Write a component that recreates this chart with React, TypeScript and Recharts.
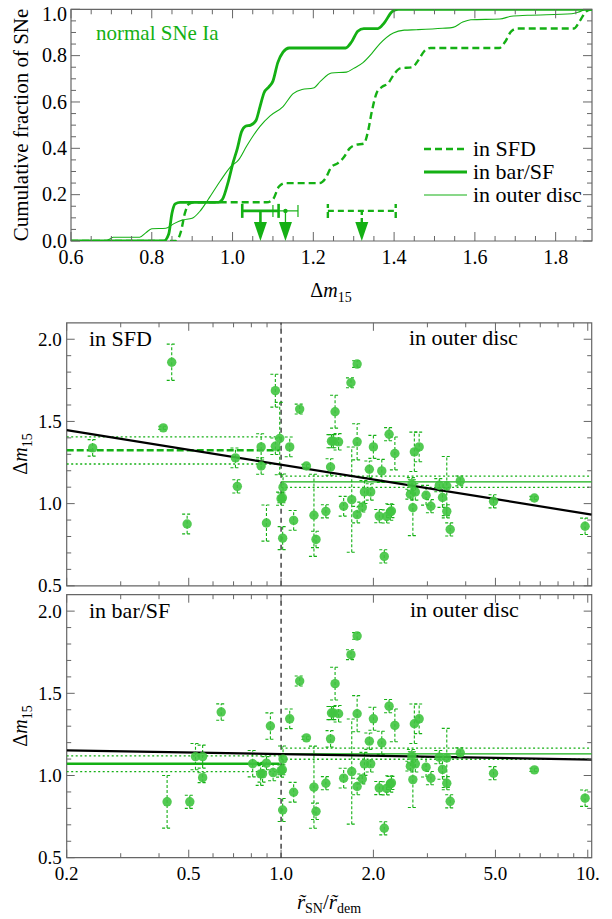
import React from 'react';
import {
  ComposedChart, Line, Scatter, XAxis, YAxis, ErrorBar,
  ReferenceLine, ReferenceArea, ReferenceDot,
} from 'recharts';

const GREEN = '#14b014';
const PT = '#40c440';
const FRAME = '#666666';
const FONT = '"Liberation Serif", "Times New Roman", Times, serif';

// ---------------- top panel: cumulative fractions ----------------
const topMajorX = [0.6, 0.8, 1.0, 1.2, 1.4, 1.6, 1.8];
const topMajorXLabels = ['0.6', '0.8', '1.0', '1.2', '1.4', '1.6', '1.8'];
const topMinorX = [0.65, 0.7, 0.75, 0.85, 0.9, 0.95, 1.05, 1.1, 1.15, 1.25, 1.3, 1.35, 1.45, 1.5, 1.55, 1.65, 1.7, 1.75, 1.85];
const topMajorY = [0, 0.2, 0.4, 0.6, 0.8, 1.0];
const topMajorYLabels = ['0.0', '0.2', '0.4', '0.6', '0.8', '1.0'];
const topMinorY = [0.05, 0.1, 0.15, 0.25, 0.3, 0.35, 0.45, 0.5, 0.55, 0.65, 0.7, 0.75, 0.85, 0.9, 0.95];

const cdfBar = [
  { x: 0.6, y: 0 }, { x: 0.83, y: 0 }, { x: 0.842, y: 0.03 }, { x: 0.85, y: 0.12 }, { x: 0.858, y: 0.16 },
  { x: 0.87, y: 0.167 }, { x: 0.965, y: 0.167 }, { x: 0.975, y: 0.18 }, { x: 0.99, y: 0.26 }, { x: 1.0, y: 0.33 },
  { x: 1.012, y: 0.4 }, { x: 1.022, y: 0.47 }, { x: 1.032, y: 0.495 }, { x: 1.045, y: 0.5 }, { x: 1.058, y: 0.52 },
  { x: 1.068, y: 0.58 }, { x: 1.078, y: 0.64 }, { x: 1.09, y: 0.665 }, { x: 1.1, y: 0.69 }, { x: 1.112, y: 0.77 },
  { x: 1.125, y: 0.815 }, { x: 1.14, y: 0.833 }, { x: 1.28, y: 0.833 }, { x: 1.295, y: 0.86 }, { x: 1.31, y: 0.905 },
  { x: 1.325, y: 0.917 }, { x: 1.36, y: 0.917 }, { x: 1.375, y: 0.94 }, { x: 1.395, y: 0.99 }, { x: 1.41, y: 1.0 },
  { x: 1.89, y: 1.0 },
];
const cdfSFD = [
  { x: 0.6, y: 0 }, { x: 0.86, y: 0 }, { x: 0.872, y: 0.04 }, { x: 0.882, y: 0.12 }, { x: 0.892, y: 0.16 },
  { x: 0.905, y: 0.167 }, { x: 1.085, y: 0.167 }, { x: 1.1, y: 0.18 }, { x: 1.115, y: 0.235 }, { x: 1.13, y: 0.25 },
  { x: 1.215, y: 0.25 }, { x: 1.23, y: 0.27 }, { x: 1.245, y: 0.32 }, { x: 1.26, y: 0.335 }, { x: 1.275, y: 0.36 },
  { x: 1.29, y: 0.4 }, { x: 1.305, y: 0.415 }, { x: 1.325, y: 0.42 }, { x: 1.335, y: 0.47 }, { x: 1.345, y: 0.56 },
  { x: 1.357, y: 0.64 }, { x: 1.37, y: 0.665 }, { x: 1.385, y: 0.68 }, { x: 1.4, y: 0.72 }, { x: 1.415, y: 0.745 },
  { x: 1.445, y: 0.75 }, { x: 1.46, y: 0.78 }, { x: 1.475, y: 0.82 }, { x: 1.49, y: 0.833 }, { x: 1.66, y: 0.833 },
  { x: 1.675, y: 0.86 }, { x: 1.69, y: 0.905 }, { x: 1.705, y: 0.917 }, { x: 1.845, y: 0.917 }, { x: 1.86, y: 0.95 },
  { x: 1.875, y: 0.99 }, { x: 1.89, y: 1.0 },
];
const cdfOuter = [
  { x: 0.6, y: 0 }, { x: 0.685, y: 0 }, { x: 0.695, y: 0.008 }, { x: 0.705, y: 0.016 }, { x: 0.77, y: 0.016 },
  { x: 0.785, y: 0.035 }, { x: 0.8, y: 0.053 }, { x: 0.835, y: 0.055 }, { x: 0.855, y: 0.075 }, { x: 0.875, y: 0.09 },
  { x: 0.9, y: 0.098 }, { x: 0.92, y: 0.13 }, { x: 0.94, y: 0.18 }, { x: 0.97, y: 0.26 }, { x: 0.995, y: 0.32 },
  { x: 1.015, y: 0.35 }, { x: 1.035, y: 0.41 }, { x: 1.068, y: 0.495 }, { x: 1.093, y: 0.54 }, { x: 1.125, y: 0.58 },
  { x: 1.15, y: 0.636 }, { x: 1.172, y: 0.654 }, { x: 1.2, y: 0.66 }, { x: 1.218, y: 0.69 }, { x: 1.245, y: 0.725 },
  { x: 1.282, y: 0.729 }, { x: 1.3, y: 0.745 }, { x: 1.323, y: 0.77 }, { x: 1.345, y: 0.81 }, { x: 1.365, y: 0.852 },
  { x: 1.398, y: 0.898 }, { x: 1.425, y: 0.91 }, { x: 1.456, y: 0.912 }, { x: 1.52, y: 0.918 }, { x: 1.546, y: 0.922 },
  { x: 1.57, y: 0.945 }, { x: 1.59, y: 0.955 }, { x: 1.662, y: 0.958 }, { x: 1.69, y: 0.97 }, { x: 1.73, y: 0.974 },
  { x: 1.84, y: 0.981 }, { x: 1.86, y: 0.99 }, { x: 1.877, y: 1.0 }, { x: 1.89, y: 1.0 },
];
// mean values with errors, drawn at a fixed height above the axis
const meanBar = [{ x: 1.069, y: 0.13, e: 0.045 }];
const meanOuter = [{ x: 1.131, y: 0.13, e: 0.031 }];
const meanSFD = [{ x: 1.32, y: 0.13, e: 0.084 }];

// ---------------- bottom panels ----------------
const logMajorX = [0.2, 0.5, 1, 2, 5, 10];
const logMajorXLabels = ['0.2', '0.5', '1.0', '2.0', '5.0', '10.'];
const logMinorX = [0.3, 0.4, 0.6, 0.7, 0.8, 0.9, 3, 4, 6, 7, 8, 9];
const dmMajorY = [0.5, 1.0, 1.5, 2.0];
const dmMajorYLabels = ['0.5', '1.0', '1.5', '2.0'];
const dmMinorY = [0.6, 0.7, 0.8, 0.9, 1.1, 1.2, 1.3, 1.4, 1.6, 1.7, 1.8, 1.9];

const outerPts = [
  { x: 1.0, y: 1.03, e: 0.04 }, { x: 1.01, y: 1.035, e: 0.03 }, { x: 1.015, y: 1.1, e: 0.08 },
  { x: 1.012, y: 0.79, e: 0.07 }, { x: 1.067, y: 1.345, e: 0.06 }, { x: 1.099, y: 0.898, e: 0.06 },
  { x: 1.15, y: 1.575, e: 0.03 }, { x: 1.21, y: 1.229, e: 0.01 }, { x: 1.28, y: 0.929, e: 0.25 },
  { x: 1.3, y: 0.782, e: 0.05 }, { x: 1.4, y: 0.953, e: 0.04 }, { x: 1.45, y: 1.223, e: 0.05 },
  { x: 1.46, y: 1.38, e: 0.04 }, { x: 1.48, y: 1.38, e: 0.04 }, { x: 1.5, y: 1.559, e: 0.1 },
  { x: 1.54, y: 1.376, e: 0.05 }, { x: 1.6, y: 0.984, e: 0.06 }, { x: 1.69, y: 1.735, e: 0.03 },
  { x: 1.7, y: 1.024, e: 0.32 }, { x: 1.77, y: 1.849, e: 0.02 }, { x: 1.77, y: 1.376, e: 0.11 },
  { x: 1.77, y: 0.933, e: 0.05 }, { x: 1.84, y: 0.979, e: 0.03 }, { x: 1.87, y: 1.071, e: 0.07 },
  { x: 1.94, y: 1.209, e: 0.05 }, { x: 1.96, y: 1.071, e: 0.05 }, { x: 2.0, y: 1.345, e: 0.07 },
  { x: 2.09, y: 0.924, e: 0.04 }, { x: 2.13, y: 1.199, e: 0.07 }, { x: 2.17, y: 0.679, e: 0.04 },
  { x: 2.21, y: 0.922, e: 0.04 }, { x: 2.25, y: 1.422, e: 0.04 }, { x: 2.27, y: 0.949, e: 0.05 },
  { x: 2.29, y: 0.955, e: 0.04 }, { x: 2.35, y: 1.305, e: 0.1 }, { x: 2.64, y: 1.057, e: 0.03 },
  { x: 2.67, y: 1.118, e: 0.04 }, { x: 2.69, y: 0.975, e: 0.17 }, { x: 2.72, y: 1.315, e: 0.12 },
  { x: 2.74, y: 1.071, e: 0.05 }, { x: 2.82, y: 1.345, e: 0.09 }, { x: 2.97, y: 1.051, e: 0.06 },
  { x: 3.08, y: 0.984, e: 0.04 }, { x: 3.28, y: 1.112, e: 0.04 }, { x: 3.36, y: 1.037, e: 0.06 },
  { x: 3.47, y: 1.107, e: 0.18 }, { x: 3.47, y: 0.953, e: 0.04 }, { x: 3.56, y: 0.843, e: 0.04 },
  { x: 3.84, y: 1.138, e: 0.03 }, { x: 4.93, y: 1.014, e: 0.04 }, { x: 6.7, y: 1.034, e: 0.01 },
  { x: 9.8, y: 0.862, e: 0.05 },
];
const sfdPts = [
  { x: 0.243, y: 1.339, e: 0.05 }, { x: 0.413, y: 1.461, e: 0.01 }, { x: 0.44, y: 1.86, e: 0.11 },
  { x: 0.494, y: 0.876, e: 0.06 }, { x: 0.71, y: 1.278, e: 0.06 }, { x: 0.72, y: 1.105, e: 0.04 },
  { x: 0.861, y: 1.345, e: 0.08 }, { x: 0.861, y: 1.229, e: 0.05 }, { x: 0.896, y: 0.882, e: 0.11 },
  { x: 0.958, y: 1.687, e: 0.1 }, { x: 0.958, y: 1.349, e: 0.05 }, { x: 0.99, y: 1.396, e: 0.22 },
];
const barPts = [
  { x: 0.425, y: 0.84, e: 0.16 }, { x: 0.504, y: 0.84, e: 0.04 }, { x: 0.526, y: 1.115, e: 0.08 },
  { x: 0.555, y: 1.115, e: 0.07 }, { x: 0.555, y: 0.987, e: 0.03 }, { x: 0.638, y: 1.386, e: 0.05 },
  { x: 0.808, y: 1.072, e: 0.08 }, { x: 0.858, y: 1.01, e: 0.07 }, { x: 0.87, y: 1.01, e: 0.05 },
  { x: 0.896, y: 1.075, e: 0.04 }, { x: 0.923, y: 1.301, e: 0.08 }, { x: 0.942, y: 1.018, e: 0.05 },
];
// means (with +-1 sigma levels) and fitted trends
const sfdMean = [{ x: 0.2, y: 1.325 }, { x: 0.99, y: 1.325 }];
const sfdHi = [{ x: 0.2, y: 1.406 }, { x: 0.99, y: 1.406 }];
const sfdLo = [{ x: 0.2, y: 1.241 }, { x: 0.99, y: 1.241 }];
const barMean = [{ x: 0.2, y: 1.072 }, { x: 0.99, y: 1.072 }];
const barHi = [{ x: 0.2, y: 1.119 }, { x: 0.99, y: 1.119 }];
const barLo = [{ x: 0.2, y: 1.024 }, { x: 0.99, y: 1.024 }];
const outerMean = [{ x: 1.0, y: 1.132 }, { x: 10.3, y: 1.132 }];
const outerHi = [{ x: 1.0, y: 1.167 }, { x: 10.3, y: 1.167 }];
const outerLo = [{ x: 1.0, y: 1.099 }, { x: 10.3, y: 1.099 }];
const fitSFD = [{ x: 0.2, y: 1.447 }, { x: 10.3, y: 0.933 }];
const fitBar = [{ x: 0.2, y: 1.153 }, { x: 10.3, y: 1.097 }];

// ---------------- helpers ----------------
const near = (a: number, b: number) => Math.abs(a - b) < 1e-6;

function XFrameTick(props: any) {
  const { x, y, payload, majors, labels, plotH, majLen, minLen, labelDy, fontSize } = props;
  const v = payload.value;
  const idx = majors.findIndex((m: number) => near(m, v));
  const len = idx >= 0 ? majLen : minLen;
  return (
    <g>
      <line x1={x} x2={x} y1={y} y2={y - len} stroke={FRAME} strokeWidth={1} />
      <line x1={x} x2={x} y1={y - plotH} y2={y - plotH + len} stroke={FRAME} strokeWidth={1} />
      {idx >= 0 && labels ? (
        <text x={x} y={y + labelDy} textAnchor="middle" fontFamily={FONT} fontSize={fontSize} fill="#000">
          {labels[idx]}
        </text>
      ) : null}
    </g>
  );
}

function YFrameTick(props: any) {
  const { x, y, payload, majors, labels, plotW, majLen, minLen, labelDx, fontSize, minTextY } = props;
  const v = payload.value;
  const idx = majors.findIndex((m: number) => near(m, v));
  const len = idx >= 0 ? majLen : minLen;
  const ty = Math.max(y, minTextY || 0);
  return (
    <g>
      <line x1={x} x2={x + len} y1={y} y2={y} stroke={FRAME} strokeWidth={1} />
      <line x1={x + plotW} x2={x + plotW - len} y1={y} y2={y} stroke={FRAME} strokeWidth={1} />
      {idx >= 0 ? (
        <text x={x - labelDx} y={ty} dy="0.34em" textAnchor="end" fontFamily={FONT} fontSize={fontSize} fill="#000">
          {labels[idx]}
        </text>
      ) : null}
    </g>
  );
}

const dot = (p: any) => (
  <circle cx={p.cx} cy={p.cy} r={4.7} fill={PT} fillOpacity={0.9} stroke="none" />
);
const noDot = () => <g />;
const smallDot = (p: any) => <circle cx={p.cx} cy={p.cy} r={2.2} fill={GREEN} />;
const arrowHead = (p: any) => (
  <path d={`M${p.cx - 6.5},${p.cy - 19} L${p.cx + 6.5},${p.cy - 19} L${p.cx},${p.cy} Z`} fill={GREEN} />
);

// ---------------- top chart ----------------
const TOP_W = 521;
const TOP_H = 231.7;

function TopChart() {
  return (
    <ComposedChart width={612} height={300} margin={{ top: 9.3, right: 20, bottom: 0, left: 0 }}>
      <XAxis
        type="number" dataKey="x" domain={[0.6, 1.89]} allowDataOverflow
        ticks={[...topMajorX, ...topMinorX]} interval={0} height={300 - 9.3 - TOP_H}
        axisLine={false} tickLine={false} tickSize={0} tickMargin={0}
        tick={<XFrameTick majors={topMajorX} labels={topMajorXLabels} plotH={TOP_H} majLen={9} minLen={5} labelDy={23} fontSize={20} />}
      />
      <YAxis
        type="number" dataKey="y" domain={[0, 1]} allowDataOverflow
        ticks={[...topMajorY, ...topMinorY]} interval={0} width={71}
        axisLine={false} tickLine={false} tickSize={0} tickMargin={0}
        tick={<YFrameTick majors={topMajorY} labels={topMajorYLabels} plotW={TOP_W} majLen={9} minLen={5} labelDx={4} fontSize={20} minTextY={14} />}
      />
      <ReferenceArea x1={0.6} x2={1.89} y1={0} y2={1} fill="none" stroke={FRAME} strokeWidth={1.2} ifOverflow="visible" />
      <Line data={cdfOuter} dataKey="y" type="monotone" stroke={GREEN} strokeWidth={1.1} dot={false} isAnimationActive={false} />
      <Line data={cdfSFD} dataKey="y" type="monotone" stroke={GREEN} strokeWidth={2.4} strokeDasharray="7 4" dot={false} isAnimationActive={false} />
      <Line data={cdfBar} dataKey="y" type="monotone" stroke={GREEN} strokeWidth={2.8} dot={false} isAnimationActive={false} />

      <Scatter data={meanBar} shape={noDot} isAnimationActive={false}>
        <ErrorBar dataKey="e" direction="x" width={7} stroke={GREEN} strokeWidth={2.6} isAnimationActive={false} />
      </Scatter>
      <Scatter data={meanOuter} shape={smallDot} isAnimationActive={false}>
        <ErrorBar dataKey="e" direction="x" width={6} stroke={GREEN} strokeWidth={1.2} isAnimationActive={false} />
      </Scatter>
      <Scatter data={meanSFD} shape={noDot} isAnimationActive={false}>
        <ErrorBar dataKey="e" direction="x" width={7} stroke={GREEN} strokeWidth={2.4} strokeDasharray="6 4" isAnimationActive={false} />
      </Scatter>
      <ReferenceLine segment={[{ x: 1.069, y: 0.13 }, { x: 1.069, y: 0.05 }]} stroke={GREEN} strokeWidth={2.6} ifOverflow="visible" />
      <ReferenceLine segment={[{ x: 1.131, y: 0.13 }, { x: 1.131, y: 0.05 }]} stroke={GREEN} strokeWidth={1.3} ifOverflow="visible" />
      <ReferenceLine segment={[{ x: 1.32, y: 0.13 }, { x: 1.32, y: 0.05 }]} stroke={GREEN} strokeWidth={2.4} strokeDasharray="4 3" ifOverflow="visible" />
      <ReferenceDot x={1.069} y={0} shape={arrowHead} ifOverflow="visible" />
      <ReferenceDot x={1.131} y={0} shape={arrowHead} ifOverflow="visible" />
      <ReferenceDot x={1.32} y={0} shape={arrowHead} ifOverflow="visible" />
    </ComposedChart>
  );
}

// ---------------- scatter panels ----------------
const BOT_W = 525;
const BOT_H = 263;

function ScatterPanel(props: any) {
  const { height, top, xAxisH, showXLabels, leftPts, leftMean, leftHi, leftLo, leftDashed, fit } = props;
  return (
    <ComposedChart width={612} height={height} margin={{ top, right: 20.3, bottom: 0, left: 0 }}>
      <XAxis
        type="number" dataKey="x" scale="log" domain={[0.2, 10.3]} allowDataOverflow
        ticks={[...logMajorX, ...logMinorX]} interval={0} height={xAxisH}
        axisLine={false} tickLine={false} tickSize={0} tickMargin={0}
        tick={<XFrameTick majors={logMajorX} labels={showXLabels ? logMajorXLabels : null} plotH={BOT_H} majLen={8} minLen={4.5} labelDy={22} fontSize={19} />}
      />
      <YAxis
        type="number" dataKey="y" domain={[0.5, 2.1]} allowDataOverflow
        ticks={[...dmMajorY, ...dmMinorY]} interval={0} width={66.7}
        axisLine={false} tickLine={false} tickSize={0} tickMargin={0}
        tick={<YFrameTick majors={dmMajorY} labels={dmMajorYLabels} plotW={BOT_W} majLen={8} minLen={4.5} labelDx={5} fontSize={19} />}
      />
      <ReferenceArea x1={0.2} x2={10.3} y1={0.5} y2={2.1} fill="none" stroke={FRAME} strokeWidth={1.2} ifOverflow="visible" />
      <ReferenceLine x={1} stroke="#000" strokeWidth={1.1} strokeDasharray="5 4" />

      <Line data={leftHi} dataKey="y" stroke={GREEN} strokeWidth={1.3} strokeDasharray="2 2.5" dot={false} isAnimationActive={false} />
      <Line data={leftLo} dataKey="y" stroke={GREEN} strokeWidth={1.3} strokeDasharray="2 2.5" dot={false} isAnimationActive={false} />
      <Line data={leftMean} dataKey="y" stroke={GREEN} strokeWidth={2.4} strokeDasharray={leftDashed ? '7 3' : undefined} dot={false} isAnimationActive={false} />
      <Line data={outerHi} dataKey="y" stroke={GREEN} strokeWidth={1.3} strokeDasharray="2 2.5" dot={false} isAnimationActive={false} />
      <Line data={outerLo} dataKey="y" stroke={GREEN} strokeWidth={1.3} strokeDasharray="2 2.5" dot={false} isAnimationActive={false} />
      <Line data={outerMean} dataKey="y" stroke={GREEN} strokeWidth={1.3} dot={false} isAnimationActive={false} />

      <Scatter data={outerPts} shape={dot} isAnimationActive={false}>
        <ErrorBar dataKey="e" direction="y" width={5} stroke={GREEN} strokeWidth={1.1} strokeDasharray="3 2" isAnimationActive={false} />
      </Scatter>
      <Scatter data={leftPts} shape={dot} isAnimationActive={false}>
        <ErrorBar dataKey="e" direction="y" width={5} stroke={GREEN} strokeWidth={1.1} strokeDasharray="3 2" isAnimationActive={false} />
      </Scatter>
      <Line data={fit} dataKey="y" stroke="#000" strokeWidth={2.2} dot={false} isAnimationActive={false} />
    </ComposedChart>
  );
}

// ---------------- page ----------------
const txt = { fontFamily: FONT, fill: '#000' } as const;

export default function App() {
  return (
    <div style={{ position: 'absolute', left: 0, top: 0, width: 612, height: 919, background: '#fff', overflow: 'hidden' }}>
      <div style={{ position: 'absolute', left: 0, top: 0 }}>
        <TopChart />
      </div>
      <div style={{ position: 'absolute', left: 0, top: 312 }}>
        <ScatterPanel height={290} top={10.8} xAxisH={290 - 10.8 - BOT_H} showXLabels={false}
          leftPts={sfdPts} leftMean={sfdMean} leftHi={sfdHi} leftLo={sfdLo} leftDashed fit={fitSFD} />
      </div>
      <div style={{ position: 'absolute', left: 0, top: 590 }}>
        <ScatterPanel height={329} top={4.7} xAxisH={329 - 4.7 - BOT_H} showXLabels
          leftPts={barPts} leftMean={barMean} leftHi={barHi} leftLo={barLo} leftDashed={false} fit={fitBar} />
      </div>
      <svg width={612} height={919} style={{ position: 'absolute', left: 0, top: 0, pointerEvents: 'none' }}>
        {/* top panel texts */}
        <text transform="translate(28,125) rotate(-90)" textAnchor="middle" fontSize={21} {...txt}>
          Cumulative fraction of  SNe
        </text>
        <text x={96} y={40} fontSize={21} fontFamily={FONT} fill={GREEN}>normal SNe Ia</text>
        <text x={331} y={297} textAnchor="middle" fontSize={20} {...txt}>
          <tspan>Δ</tspan><tspan fontStyle="italic">m</tspan><tspan fontSize={14} dy={5}>15</tspan>
        </text>
        {/* legend */}
        <line x1={424} x2={467} y1={149} y2={149} stroke={GREEN} strokeWidth={2.4} strokeDasharray="7 4" />
        <line x1={424} x2={467} y1={172} y2={172} stroke={GREEN} strokeWidth={2.8} />
        <line x1={424} x2={467} y1={195} y2={195} stroke={GREEN} strokeWidth={1.1} />
        <text x={473} y={156} fontSize={22} {...txt}>in SFD</text>
        <text x={473} y={179} fontSize={22} {...txt}>in bar/SF</text>
        <text x={473} y={202} fontSize={22} {...txt}>in outer disc</text>

        {/* scatter panel texts */}
        <text x={89} y={346} fontSize={22} {...txt}>in SFD</text>
        <text x={409} y={345} fontSize={22} {...txt}>in outer disc</text>
        <text x={89} y={618} fontSize={22} {...txt}>in bar/SF</text>
        <text x={410} y={617} fontSize={22} {...txt}>in outer disc</text>
        <text transform="translate(27,454) rotate(-90)" textAnchor="middle" fontSize={20} {...txt}>
          <tspan>Δ</tspan><tspan fontStyle="italic">m</tspan><tspan fontSize={14} dy={5}>15</tspan>
        </text>
        <text transform="translate(27,726) rotate(-90)" textAnchor="middle" fontSize={20} {...txt}>
          <tspan>Δ</tspan><tspan fontStyle="italic">m</tspan><tspan fontSize={14} dy={5}>15</tspan>
        </text>
        <text x={329} y={909} textAnchor="middle" fontSize={21} {...txt}>
          <tspan fontStyle="italic">r&#x303;</tspan>
          <tspan fontSize={14} dy={4}>SN</tspan>
          <tspan dy={-4}>/</tspan>
          <tspan fontStyle="italic">r&#x303;</tspan>
          <tspan fontSize={14} dy={4}>dem</tspan>
        </text>
      </svg>
    </div>
  );
}
